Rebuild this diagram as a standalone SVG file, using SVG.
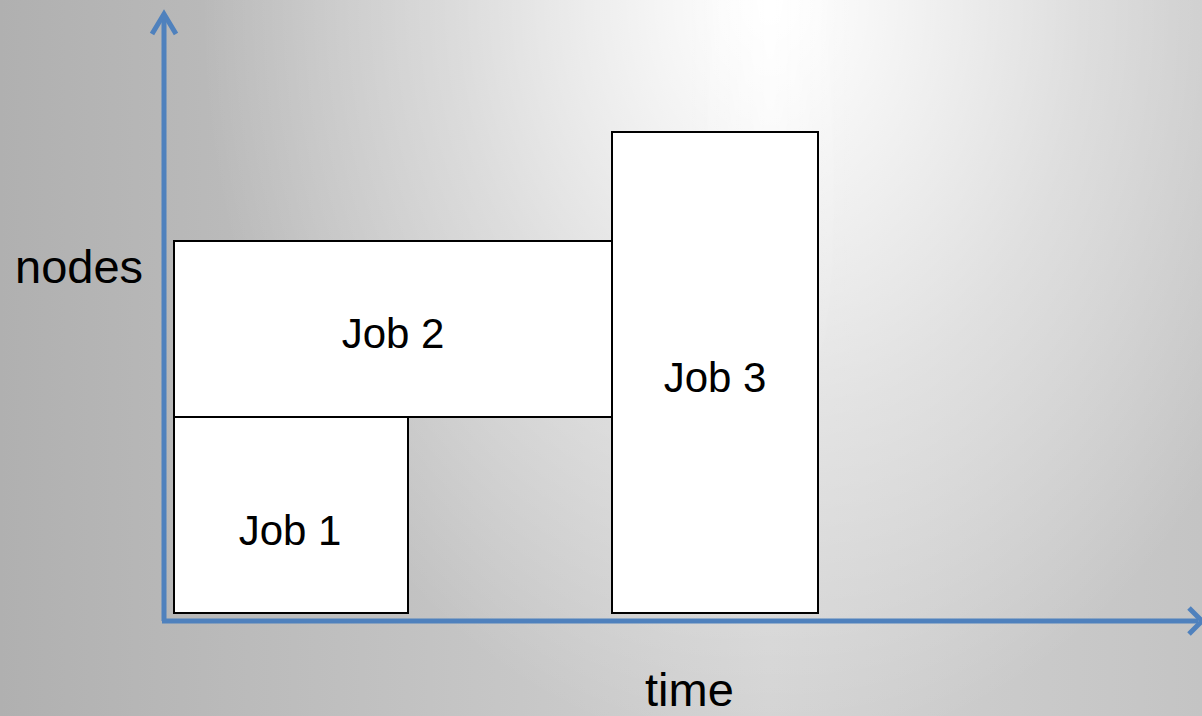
<svg xmlns="http://www.w3.org/2000/svg" width="1202" height="716" viewBox="0 0 1202 716">
  <defs>
    <linearGradient id="bgBase" gradientUnits="userSpaceOnUse" x1="0" y1="0" x2="1202" y2="0">
      <stop offset="0" stop-color="#b0b0b0"/>
      <stop offset="0.64" stop-color="#d2d2d2"/>
      <stop offset="1" stop-color="#c4c4c4"/>
    </linearGradient>
    <radialGradient id="bgGlow" gradientUnits="userSpaceOnUse" cx="770" cy="0" r="760" gradientTransform="translate(770 0) scale(0.75 1) translate(-770 0)">
      <stop offset="0" stop-color="#ffffff" stop-opacity="1"/>
      <stop offset="0.15" stop-color="#ffffff" stop-opacity="0.85"/>
      <stop offset="0.55" stop-color="#ffffff" stop-opacity="0.4"/>
      <stop offset="1" stop-color="#ffffff" stop-opacity="0"/>
    </radialGradient>
    <linearGradient id="bgStreak" gradientUnits="userSpaceOnUse" x1="690" y1="0" x2="850" y2="0">
      <stop offset="0" stop-color="#ffffff" stop-opacity="0"/>
      <stop offset="0.5" stop-color="#ffffff" stop-opacity="0.6"/>
      <stop offset="1" stop-color="#ffffff" stop-opacity="0"/>
    </linearGradient>
    <linearGradient id="streakFade" x1="0" y1="0" x2="0" y2="1">
      <stop offset="0" stop-color="#ffffff"/>
      <stop offset="0.6" stop-color="#000000"/>
    </linearGradient>
    <mask id="streakMask">
      <rect x="0" y="0" width="1202" height="716" fill="url(#streakFade)"/>
    </mask>
    <style>
      .job { fill: #ffffff; stroke: #000000; stroke-width: 2; }
      .axis { fill: none; stroke: #4f81bd; stroke-width: 5; }
      .lbl { font-family: "Liberation Sans", Arial, sans-serif; fill: #000000; }
      .jobtxt { font-size: 42px; text-anchor: middle; }
      .axtxt { font-size: 47px; }
    </style>
  </defs>

  <!-- backdrop -->
  <rect x="0" y="0" width="1202" height="716" fill="url(#bgBase)"/>
  <rect x="0" y="0" width="1202" height="716" fill="url(#bgGlow)"/>
  <rect x="0" y="0" width="1202" height="716" fill="url(#bgStreak)" mask="url(#streakMask)"/>

  <g id="job1">
    <rect class="job" x="174" y="417" width="234" height="196"/>
    <text class="lbl jobtxt" x="290" y="545">Job 1</text>
  </g>
  <g id="job2">
    <rect class="job" x="174" y="241" width="438" height="176"/>
    <text class="lbl jobtxt" x="393" y="348">Job 2</text>
  </g>
  <g id="job3">
    <rect class="job" x="612" y="132" width="206" height="481"/>
    <text class="lbl jobtxt" x="715" y="392">Job 3</text>
  </g>

  <g id="connectors">
    <!-- y axis -->
    <line class="axis" x1="164" y1="16" x2="164" y2="621"/>
    <polyline class="axis" points="152,34 164,14 176,34"/>
    <!-- x axis -->
    <line class="axis" x1="162" y1="621" x2="1198" y2="621"/>
    <polyline class="axis" points="1189,608 1202,621 1189,634"/>
  </g>

  <g id="axis-labels">
    <text class="lbl axtxt" x="15" y="283">nodes</text>
    <text class="lbl axtxt" x="645" y="706">time</text>
  </g>
</svg>
